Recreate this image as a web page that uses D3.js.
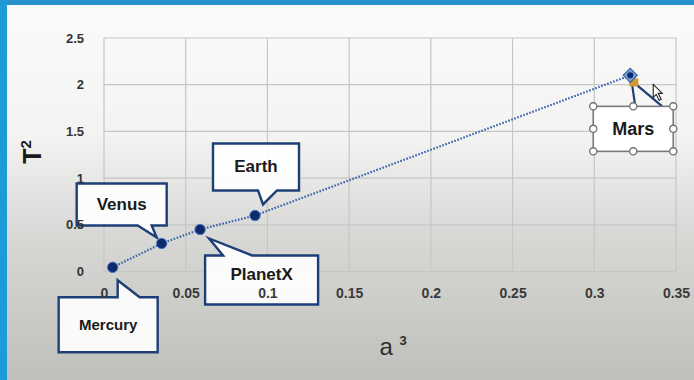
<!DOCTYPE html>
<html>
<head>
<meta charset="utf-8">
<script src="https://cdn.jsdelivr.net/npm/d3@7"></script>
<style>
  html, body { margin: 0; padding: 0; background: #ffffff; }
  svg { display: block; }
</style>
</head>
<body>
<svg id="chart" width="694" height="380"></svg>
<script>
// Kepler's third law: period squared against semi-major axis cubed
const planets  = ["Mercury", "Venus", "PlanetX", "Earth", "Mars"];
const aCubed   = [0.0053, 0.0353, 0.0588, 0.0924, 0.322];
const tSquared = [0.045, 0.30, 0.45, 0.60, 2.10];

const xTicks = [0, 0.05, 0.1, 0.15, 0.2, 0.25, 0.3, 0.35];
const xTickLabels = ["0", "0.05", "0.1", "0.15", "0.2", "0.25", "0.3", "0.35"];
const yTicks = [0, 0.5, 1, 1.5, 2, 2.5];
const yTickLabels = ["0", "0.5", "1", "1.5", "2", "2.5"];

const W = 694, H = 380;
const svg = d3.select("#chart");
const defs = svg.append("defs");

// page background: white slide fading to grey towards the bottom
const bg = defs.append("linearGradient").attr("id", "bg")
  .attr("x1", 0).attr("y1", 0).attr("x2", 0).attr("y2", 1);
bg.append("stop").attr("offset", "0%").attr("stop-color", "#fbfbfb");
bg.append("stop").attr("offset", "36%").attr("stop-color", "#f3f3f2");
bg.append("stop").attr("offset", "60%").attr("stop-color", "#d9d9d7");
bg.append("stop").attr("offset", "100%").attr("stop-color", "#bfbfbb");
svg.append("rect").attr("width", W).attr("height", H).attr("fill", "url(#bg)");

// blue frame along top and left edge
svg.append("rect").attr("x", 0).attr("y", 0).attr("width", W).attr("height", 5).attr("fill", "#2592c9");
svg.append("rect").attr("x", 0).attr("y", 0).attr("width", 7).attr("height", H).attr("fill", "#1e9bd7");

const x = d3.scaleLinear().domain([0, 0.35]).range([104, 676]);
const y = d3.scaleLinear().domain([0, 2.5]).range([271.5, 38]);

// gridlines
const grid = svg.append("g").attr("stroke", "#c6c6c4").attr("stroke-width", 1.2).attr("fill", "none");
grid.selectAll("line.v").data(xTicks).join("line")
  .attr("x1", d => x(d)).attr("x2", d => x(d))
  .attr("y1", y(2.5)).attr("y2", y(0));
grid.selectAll("line.h").data(yTicks).join("line")
  .attr("x1", x(0)).attr("x2", x(0.35))
  .attr("y1", d => y(d)).attr("y2", d => y(d));

// series line (dotted) through the points
const pts = planets.map((p, i) => ({ name: p, a: aCubed[i], t: tSquared[i] }))
  .sort((p, q) => p.a - q.a);
svg.append("path")
  .attr("d", d3.line().x(d => x(d.a)).y(d => y(d.t))(pts))
  .attr("fill", "none").attr("stroke", "#3b62ad").attr("stroke-width", 2.2)
  .attr("stroke-dasharray", "1.6,1.6");

// callout boxes with pointer, placed relative to each point
const callouts = {
  Mercury: { box: [-54, 30, 99, 55], base: [5, 27], tip: [5, 13], side: "top", size: 15, ty: 0 },
  Venus:   { box: [-85, -60, 90, 42], base: [-24, -10], tip: [-5, -6], side: "bottom", size: 17, ty: 0 },
  PlanetX: { box: [5, 26, 113, 49], base: [23, 52], tip: [9, 9], side: "top", size: 17, ty: -5 },
  Earth:   { box: [-42, -72, 86, 47], base: [3, 22], tip: [8, -11], side: "bottom", size: 17, ty: 0 }
};

const labelFont = "'Liberation Sans Narrow', 'Liberation Sans', Arial, sans-serif";
const calloutG = svg.append("g");
pts.forEach(p => {
  const c = callouts[p.name];
  if (!c) return;
  const px = x(p.a), py = y(p.t);
  const bx = px + c.box[0], by = py + c.box[1], bw = c.box[2], bh = c.box[3];
  const b0 = px + c.base[0], b1 = px + c.base[1];
  const tx = px + c.tip[0], ty = py + c.tip[1];
  let d;
  if (c.side === "bottom") {
    d = `M${bx},${by}H${bx + bw}V${by + bh}H${b1}L${tx},${ty}L${b0},${by + bh}H${bx}Z`;
  } else {
    d = `M${bx},${by}H${b0}L${tx},${ty}L${b1},${by}H${bx + bw}V${by + bh}H${bx}Z`;
  }
  calloutG.append("path").attr("d", d)
    .attr("fill", "#ffffff").attr("fill-opacity", 0.9)
    .attr("stroke", "#1d3f78").attr("stroke-width", 2.4).attr("stroke-linejoin", "miter");
  calloutG.append("text")
    .attr("x", bx + bw / 2).attr("y", by + bh / 2 + 1 + c.ty)
    .attr("text-anchor", "middle").attr("dominant-baseline", "middle")
    .attr("font-family", labelFont)
    .attr("font-weight", "bold").attr("font-size", c.size).attr("fill", "#1a1a1a")
    .text(p.name);
});

// axis tick labels
const xAxis = d3.axisBottom(x).tickValues(xTicks).tickSize(0)
  .tickFormat((d, i) => xTickLabels[i]);
const gx = svg.append("g").attr("transform", `translate(0,${y(0) + 16})`).call(xAxis);
gx.select(".domain").remove();
gx.selectAll("text").attr("font-family", labelFont).attr("font-weight", "bold")
  .attr("font-size", 14).attr("fill", "#3a3a3a").attr("dy", "0.55em");

const yAxis = d3.axisLeft(y).tickValues(yTicks).tickSize(0)
  .tickFormat((d, i) => yTickLabels[i]);
const gy = svg.append("g").attr("transform", `translate(${x(0) - 17},0)`).call(yAxis);
gy.select(".domain").remove();
gy.selectAll("text").attr("font-family", labelFont).attr("font-weight", "bold")
  .attr("font-size", 13).attr("fill", "#333333");

// markers
svg.append("g").selectAll("circle").data(pts.filter(p => p.name !== "Mars")).join("circle")
  .attr("cx", d => x(d.a)).attr("cy", d => y(d.t)).attr("r", 5.2)
  .attr("fill", "#0c2a6c").attr("stroke", "#4a78c8").attr("stroke-width", 1);

// Mars: selected label with handles and selected point
const mars = pts.find(p => p.name === "Mars");
const mx = x(mars.a), my = y(mars.t);
const mBox = { x: mx - 37, y: my + 31, w: 80, h: 45 };
const mg = svg.append("g");
mg.append("path")
  .attr("d", `M${mx + 2},${my + 10}L${mx + 5},${mBox.y}M${mx + 7},${my + 10}L${mx + 32},${mBox.y}`)
  .attr("stroke", "#1d3f78").attr("stroke-width", 2.2).attr("fill", "none");
mg.append("rect").attr("x", mBox.x).attr("y", mBox.y).attr("width", mBox.w).attr("height", mBox.h)
  .attr("fill", "#ffffff").attr("stroke", "#7a7a7a").attr("stroke-width", 1.6);
mg.append("text")
  .attr("x", mBox.x + mBox.w / 2).attr("y", mBox.y + mBox.h / 2 + 1)
  .attr("text-anchor", "middle").attr("dominant-baseline", "middle")
  .attr("font-family", labelFont).attr("font-weight", "bold").attr("font-size", 18)
  .attr("fill", "#1a1a1a").text(mars.name);
const handles = [];
[0, 0.5, 1].forEach(fx => [0, 0.5, 1].forEach(fy => {
  if (fx === 0.5 && fy === 0.5) return;
  handles.push([mBox.x + fx * mBox.w, mBox.y + fy * mBox.h]);
}));
mg.selectAll("circle.h").data(handles).join("circle")
  .attr("cx", d => d[0]).attr("cy", d => d[1]).attr("r", 3.6)
  .attr("fill", "#ffffff").attr("stroke", "#6f6f6f").attr("stroke-width", 1.3);
// selected point marker
mg.append("rect").attr("x", mx - 1).attr("y", my + 3).attr("width", 9).attr("height", 8)
  .attr("fill", "#d6962c");
mg.append("rect").attr("x", mx - 5).attr("y", my - 5).attr("width", 10).attr("height", 10)
  .attr("transform", `rotate(45,${mx},${my})`)
  .attr("fill", "#6f9fd6").attr("stroke", "#3c5f96").attr("stroke-width", 1);
mg.append("circle").attr("cx", mx).attr("cy", my).attr("r", 3).attr("fill", "#0c2a6c");
// mouse cursor
const cx0 = mx + 23, cy0 = my + 9;
mg.append("path")
  .attr("d", `M${cx0},${cy0}l0,13l3,-3l3,6l2,-1l-3,-6l4,0Z`)
  .attr("fill", "#ffffff").attr("stroke", "#222222").attr("stroke-width", 1.1);

// axis titles
svg.append("text")
  .attr("transform", "translate(41,152) rotate(-90)")
  .attr("text-anchor", "middle")
  .attr("font-family", "'Liberation Sans', Arial, sans-serif")
  .attr("font-weight", "bold").attr("font-size", 25).attr("fill", "#1a1a1a")
  .call(t => {
    t.append("tspan").text("T");
    t.append("tspan").attr("font-size", 15).attr("dy", -10).text("2");
  });
svg.append("text")
  .attr("x", 393).attr("y", 355)
  .attr("text-anchor", "middle")
  .attr("font-family", "'Liberation Sans', Arial, sans-serif")
  .attr("font-size", 24).attr("fill", "#2e2e2e")
  .call(t => {
    t.append("tspan").text("a ");
    t.append("tspan").attr("font-size", 13).attr("font-weight", "bold").attr("dy", -10).text("3");
  });
</script>
</body>
</html>
